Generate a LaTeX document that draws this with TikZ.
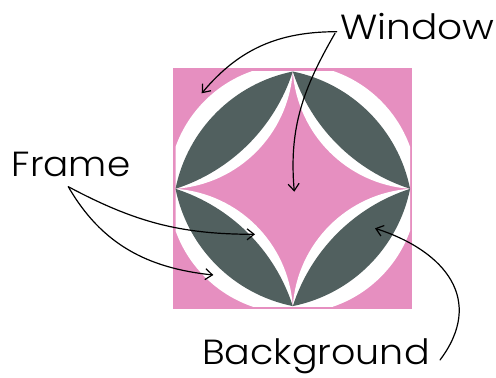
\documentclass[tikz,border=0pt]{standalone}
\usepackage{fontspec}
\setmainfont{Poppins Light}
\usetikzlibrary{arrows.meta}
\definecolor{bgpink}{HTML}{E68FC0}
\definecolor{framegray}{HTML}{51605F}
\begin{document}
\begin{tikzpicture}[x=1bp,y=1bp,
  lbl/.style={font=\fontsize{35}{40}\selectfont, anchor=base west, inner sep=0pt},
  pointer/.style={line width=1.2bp, -{Straight Barb[length=7bp,width=11bp]}, line cap=round}]
\useasboundingbox (0,0) rectangle (496,377);
\fill[white] (0,0) rectangle (496,377);
% background square
\fill[bgpink] (173.3,67.7) rectangle (412.3,308.7);
\begin{scope}[shift={(292.8,188.2)}]
  \begin{scope}
    \clip (-117.3,-117.3) rectangle (117.3,117.3);
    \fill[white] (0,0) circle (124.5);
  \end{scope}
  \fill[bgpink] (0,117.3) -- (-117.3,0) -- (0,-117.3) -- (117.3,0) -- cycle;
  \foreach \i in {0,1,2,3} {
    \begin{scope}[rotate=90*\i, shift={(-58.65,58.65)}, rotate=45]
      \fill[white] (-82.94,0) .. controls (-35.37,-41.33) and (35.37,-41.33) .. (82.94,0) -- cycle;
      \fill[framegray] (-82.94,0) .. controls (-32.67,33.33) and (32.67,33.33) .. (82.94,0)
        .. controls (30.86,-26.67) and (-30.86,-26.67) .. (-82.94,0) -- cycle;
    \end{scope}
  }
\end{scope}
% labels
\node[lbl] (window) at (340,337.7) {\scalebox{1.12}[1]{Window}};
\node[lbl] (frame) at (11.7,200.3) {\scalebox{1.07}[1]{Frame}};
\node[lbl] (background) at (202,12.8) {\scalebox{1.09}[1]{Background}};
% arrow ends
\coordinate (w1) at (336.7,345.3);
\coordinate (w2) at (335,343.7);
\coordinate (cornertip) at (201.7,283.7);
\coordinate (centertip) at (294.3,185.3);
\coordinate (f0) at (68.3,190.3);
\coordinate (lenstip) at (255,142.7);
\coordinate (outertip) at (213.3,102);
\coordinate (b0) at (440,17);
\coordinate (bgtip) at (375,148.7);
\draw[pointer] (w1) to[out=180, in=50] (cornertip);
\draw[pointer] (w2) to[out=240, in=95] (centertip);
\draw[pointer] (f0) to[out=-28, in=180] (lenstip);
\draw[pointer] (f0) to[out=-60, in=174] (outertip);
\draw[pointer] (b0) to[out=53, in=-18, looseness=1.3] (bgtip);
\end{tikzpicture}
\end{document}
